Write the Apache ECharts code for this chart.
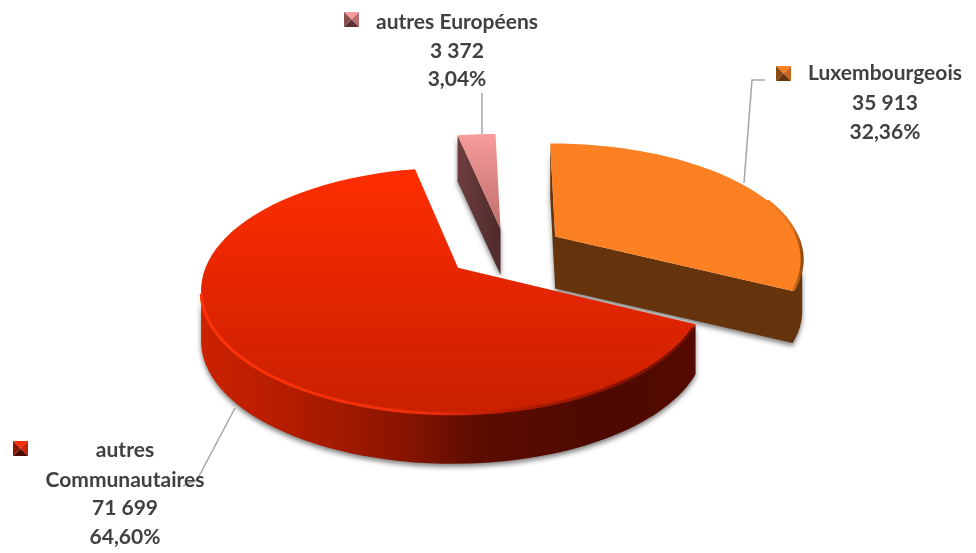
<!DOCTYPE html>
<html>
<head>
<meta charset="utf-8">
<style>html,body{margin:0;padding:0;background:#fff}#chart{width:976px;height:553px}</style>
<script src="https://cdn.jsdelivr.net/npm/echarts@6/dist/echarts.min.js"></script>
</head>
<body>
<div id="chart"></div>
<script>
// slices, clockwise from 12 o'clock
var names = ['Luxembourgeois', 'autres\nCommunautaires', 'autres Européens'];
var values = [35913, 71699, 3372];

// how the fake 3d pie is posed
var center = [500, 274];
var radiusX = 252;
var radiusY = [116, 123, 118];
var explode = [59, 59, 47];
var depth = [52, 50, 46];
var apexShift = [5, -23];
var tiltWarp = 12; // degrees, perspective squeeze of the front half

var total = values.reduce(function (a, b) { return a + b; }, 0);
var green = echarts.graphic.LinearGradient;

var looks = [
	{
		top: '#fd8022',
		side: '#66340c',
		rim: new green(0, 0, 1, 0, [{offset: 0, color: '#fd8022'}, {offset: 0.7, color: '#e0701c'}, {offset: 1, color: '#7a3f0f'}]),
		rimFrom: 60, rimTo: 105,
		key: ['#fd8022', '#c9661b', '#8a4a14', '#66340c']
	},
	{
		top: new green(0, 0, 0, 1, [{offset: 0, color: '#ff2e00'}, {offset: 0.5, color: '#e32500'}, {offset: 1, color: '#c92000'}]),
		side: new green(0, 0, 1, 0, [{offset: 0, color: '#cc2200'}, {offset: 0.2, color: '#b01c00'}, {offset: 0.4, color: '#8c1500'}, {offset: 0.55, color: '#5e0d00'}, {offset: 0.8, color: '#4d0900'}, {offset: 1, color: '#540a00'}]),
		rim: new green(0, 0, 1, 0, [{offset: 0, color: '#ff3208'}, {offset: 0.45, color: '#f03008'}, {offset: 0.62, color: '#b81c00'}, {offset: 1, color: '#6a0e00'}]),
		rimFrom: 108, rimTo: 268,
		key: ['#ff2e00', '#c92000', '#8c1500', '#4d0900']
	},
	{
		top: new green(0, 0, 0, 1, [{offset: 0, color: '#f79c9a'}, {offset: 1, color: '#bd6e6c'}]),
		side: new green(0, 0, 1, 0, [{offset: 0, color: '#6e3e3e'}, {offset: 1, color: '#4e2a2a'}]),
		key: ['#f79c9a', '#bd6e6c', '#8a5050', '#5d3233']
	}
];

// where the text blocks sit
var labelBoxes = [
	{x: 885, y: [73, 103, 132], keyX: 776, keyY: 66, nameX: 886},
	{x: 125, y: [450, 480, 508, 537], keyX: 13, keyY: 441, nameX: 125},
	{x: 457, y: [22, 51, 79], keyX: 344, keyY: 12, nameX: 457}
];
var leaders = [
	[[765, 80], [752, 80], [744, 183]],
	[[235, 408], [197, 480], [183, 486]],
	[[482, 93], [482, 134]]
];

function thousands(v) {
	return String(v).replace(/\B(?=(\d{3})+$)/g, ' ');
}

function rad(d) { return d * Math.PI / 180; }

// pie angle -> ellipse angle
function warp(a) { return a - tiltWarp * Math.sin(rad(a)); }

function drawSlice(params, api) {
	var i = params.dataIndex;
	var value = api.value(0);
	var before = 0;
	for (var k = 0; k < i; k++) before += values[k];
	var a0 = before / total * 360;
	var a1 = (before + value) / total * 360;
	var mid = rad((a0 + a1) / 2);

	var rx = radiusX, ry = radiusY[i];
	var cx = center[0] + Math.sin(mid) * explode[i];
	var cy = center[1] - Math.cos(mid) * explode[i] * 0.47;
	var apex = [cx + apexShift[0], cy + apexShift[1]];

	function onArc(t) {
		return [cx + Math.sin(rad(t)) * rx, cy - Math.cos(rad(t)) * ry];
	}

	var outline = [apex];
	var t0 = warp(a0), t1 = warp(a1);
	for (var s = 0; s <= 80; s++) outline.push(onArc(t0 + (t1 - t0) * s / 80));

	// edges running right to left are the ones whose wall faces the viewer
	var n = outline.length, first = 0;
	for (var e = 0; e < n; e++) {
		var p = outline[(e + n - 1) % n], q = outline[e], r = outline[(e + 1) % n];
		if (q[0] <= p[0] - 1e-6 ? false : r[0] < q[0]) { first = e; break; }
	}
	var chain = [outline[first]];
	for (var c = 0; c < n; c++) {
		var from = outline[(first + c) % n], to = outline[(first + c + 1) % n];
		if (to[0] < from[0]) chain.push(to); else break;
	}
	var wall = chain.slice();
	for (var w = chain.length - 1; w >= 0; w--) wall.push([chain[w][0], chain[w][1] + depth[i]]);

	var look = looks[i];
	var children = [
		{
			type: 'polygon',
			shape: {points: wall},
			style: {fill: look.side, shadowColor: 'rgba(0,0,0,0.5)', shadowBlur: 5, shadowOffsetY: 3}
		},
		{type: 'polygon', shape: {points: outline}, style: {fill: look.top}}
	];
	if (look.rim) {
		var rim = [];
		for (var m = 0; m <= 60; m++) rim.push(onArc(look.rimFrom + (look.rimTo - look.rimFrom) * m / 60));
		children.push({
			type: 'polyline',
			shape: {points: rim},
			style: {fill: null, stroke: look.rim, lineWidth: 3, lineCap: 'round'}
		});
	}

	// leader line
	children.push({
		type: 'polyline',
		shape: {points: leaders[i]},
		style: {fill: null, stroke: '#a6a6a6', lineWidth: 1.5}
	});

	// bevelled legend key
	var box = labelBoxes[i], kx = box.keyX, ky = box.keyY, ks = 15;
	var mx = kx + ks / 2, my = ky + ks / 2;
	var corners = [[kx, ky], [kx + ks, ky], [kx + ks, ky + ks], [kx, ky + ks]];
	var keyOrder = [0, 1, 3, 2]; // top, right, bottom, left shade
	for (var f = 0; f < 4; f++) {
		children.push({
			type: 'polygon',
			shape: {points: [corners[f], corners[(f + 1) % 4], [mx, my]]},
			style: {fill: look.key[keyOrder[f]]}
		});
	}

	// text
	var lines = names[i].split('\n').concat([
		thousands(value),
		(value / total * 100).toFixed(2).replace('.', ',') + '%'
	]);
	lines.forEach(function (line, li) {
		children.push({
			type: 'text',
			style: {
				text: line,
				x: box.x,
				y: box.y[li],
				align: 'center',
				verticalAlign: 'middle',
				fill: '#404040',
				font: 'bold 21px Lato'
			}
		});
	});

	return {type: 'group', children: children};
}

var myChart = echarts.init(document.getElementById('chart'));
var option = {
	animation: false,
	backgroundColor: '#fff',
	series: [
		{
			type: 'custom',
			coordinateSystem: 'none',
			silent: true,
			renderItem: drawSlice,
			data: values
		}
	]
};
myChart.setOption(option);
</script>
</body>
</html>
